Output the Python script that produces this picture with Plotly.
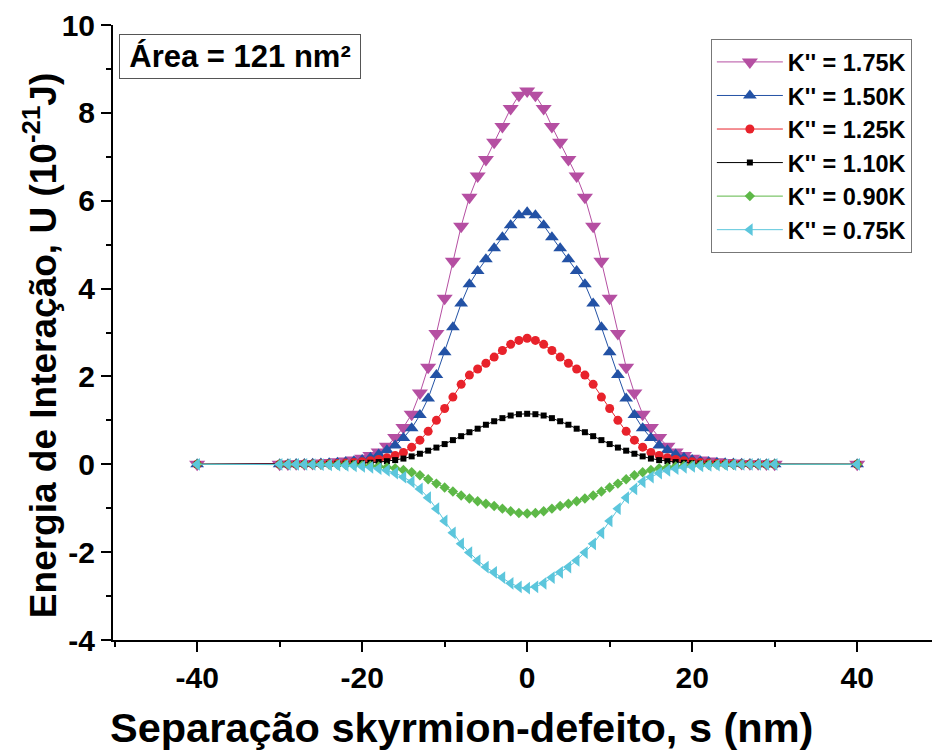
import plotly.graph_objects as go

S = [-40, -30, -29, -28, -27, -26, -25, -24, -23, -22, -21, -20, -19, -18, -17, -16,
     -15, -14, -13, -12, -11, -10, -9, -8, -7, -6, -5, -4, -3, -2, -1, 0,
     1, 2, 3, 4, 5, 6, 7, 8, 9, 10, 11, 12, 13, 14, 15, 16, 17, 18, 19, 20,
     21, 22, 23, 24, 25, 26, 27, 28, 29, 30, 40]

U_175 = [0.0, 0.003, 0.005, 0.01, 0.015, 0.02, 0.03, 0.04, 0.055, 0.075, 0.10, 0.14, 0.20, 0.28, 0.41,
         0.61, 0.84, 1.14, 1.62, 2.21, 2.98, 3.78, 4.62, 5.42, 6.08, 6.56, 6.94, 7.33, 7.69, 8.10, 8.40,
         8.50,
         8.40, 8.10, 7.69, 7.33, 6.94, 6.56, 6.08, 5.42, 4.62, 3.78, 2.98, 2.21, 1.62, 1.14, 0.84, 0.61,
         0.41, 0.28, 0.20, 0.14, 0.10, 0.075, 0.055, 0.04, 0.03, 0.02, 0.015, 0.01, 0.005, 0.003, 0.0]

U_150 = [0.0, 0.002, 0.003, 0.005, 0.008, 0.012, 0.018, 0.025, 0.035, 0.05, 0.07, 0.10, 0.15, 0.22, 0.32,
         0.43, 0.60, 0.82, 1.12, 1.50, 2.03, 2.55, 3.12, 3.66, 4.10, 4.40, 4.67, 4.92, 5.17, 5.44, 5.67,
         5.74,
         5.67, 5.44, 5.17, 4.92, 4.67, 4.40, 4.10, 3.66, 3.12, 2.55, 2.03, 1.50, 1.12, 0.82, 0.60, 0.43,
         0.32, 0.22, 0.15, 0.10, 0.07, 0.05, 0.035, 0.025, 0.018, 0.012, 0.008, 0.005, 0.003, 0.002, 0.0]

U_125 = [0.0, 0.001, 0.002, 0.003, 0.005, 0.007, 0.01, 0.015, 0.02, 0.03, 0.04, 0.06, 0.08, 0.11, 0.15,
         0.20, 0.27, 0.39, 0.55, 0.75, 1.00, 1.27, 1.53, 1.82, 2.03, 2.17, 2.30, 2.44, 2.59, 2.73, 2.82,
         2.87,
         2.82, 2.73, 2.59, 2.44, 2.30, 2.17, 2.03, 1.82, 1.53, 1.27, 1.00, 0.75, 0.55, 0.39, 0.27, 0.20,
         0.15, 0.11, 0.08, 0.06, 0.04, 0.03, 0.02, 0.015, 0.01, 0.007, 0.005, 0.003, 0.002, 0.001, 0.0]

U_110 = [0.0, 0.0, 0.001, 0.001, 0.002, 0.003, 0.004, 0.005, 0.008, 0.012, 0.018, 0.025, 0.035, 0.05, 0.07,
         0.095, 0.13, 0.18, 0.24, 0.31, 0.38, 0.46, 0.55, 0.64, 0.73, 0.81, 0.90, 0.98, 1.05, 1.11, 1.14,
         1.15,
         1.14, 1.11, 1.05, 0.98, 0.90, 0.81, 0.73, 0.64, 0.55, 0.46, 0.38, 0.31, 0.24, 0.18, 0.13, 0.095,
         0.07, 0.05, 0.035, 0.025, 0.018, 0.012, 0.008, 0.005, 0.004, 0.003, 0.002, 0.001, 0.001, 0.0, 0.0]

U_090 = [0.0, 0.0, -0.001, -0.001, -0.002, -0.003, -0.004, -0.005, -0.008, -0.012, -0.018, -0.025, -0.035,
         -0.05, -0.07, -0.09, -0.13, -0.18, -0.25, -0.34, -0.44, -0.53, -0.62, -0.71, -0.78, -0.84, -0.90,
         -0.95, -1.01, -1.07, -1.11,
         -1.12,
         -1.11, -1.07, -1.01, -0.95, -0.90, -0.84, -0.78, -0.71, -0.62, -0.53, -0.44, -0.34, -0.25, -0.18,
         -0.13, -0.09, -0.07, -0.05, -0.035, -0.025, -0.018, -0.012, -0.008, -0.005, -0.004, -0.003,
         -0.002, -0.001, -0.001, 0.0, 0.0]

U_075 = [0.0, 0.0, -0.001, -0.002, -0.003, -0.005, -0.008, -0.012, -0.018, -0.025, -0.035, -0.05, -0.07,
         -0.10, -0.14, -0.20, -0.29, -0.40, -0.56, -0.76, -1.01, -1.29, -1.56, -1.81, -2.01, -2.19, -2.34,
         -2.46, -2.58, -2.71, -2.79,
         -2.82,
         -2.79, -2.71, -2.58, -2.46, -2.34, -2.19, -2.01, -1.81, -1.56, -1.29, -1.01, -0.76, -0.56, -0.40,
         -0.29, -0.20, -0.14, -0.10, -0.07, -0.05, -0.035, -0.025, -0.018, -0.012, -0.008, -0.005,
         -0.003, -0.002, -0.001, 0.0, 0.0]

NAMES = ["K'' = 1.75K", "K'' = 1.50K", "K'' = 1.25K", "K'' = 1.10K", "K'' = 0.90K", "K'' = 0.75K"]
SERIES = [U_175, U_150, U_125, U_110, U_090, U_075]
COLORS = ["#B54FA2", "#2352A5", "#E8222B", "#000000", "#5DB847", "#5CC6DC"]
SYMBOLS = ["triangle-down", "triangle-up", "circle", "square", "diamond", "triangle-left"]
SIZES = [14, 12, 9, 6, 8, 11]

XTICKS = [-40, -20, 0, 20, 40]
XTICKTEXT = ["-40", "-20", "0", "20", "40"]
YTICKS = [-4, -2, 0, 2, 4, 6, 8, 10]
YTICKTEXT = ["-4", "-2", "0", "2", "4", "6", "8", "10"]

X_TITLE = "Separação skyrmion-defeito, s (nm)"
Y_TITLE = "Energia de Interação, U (10<sup>-21</sup>J)"
AREA_LABEL = "Área = 121 nm²"

FONT = "Liberation Sans, Arial, sans-serif"

fig = go.Figure()
for name, ys, col, sym, sz in zip(NAMES, SERIES, COLORS, SYMBOLS, SIZES):
    fig.add_trace(go.Scatter(
        x=S, y=ys, name=name, mode="lines+markers",
        line=dict(color=col, width=1),
        marker=dict(symbol=sym, size=sz, color=col, line=dict(width=0)),
    ))

XR = [-50.2, 49.07]
YR = [-4, 10]

fig.update_layout(
    width=932, height=751,
    margin=dict(l=113, r=0, t=25, b=111, autoexpand=False),
    paper_bgcolor="white", plot_bgcolor="white",
    font=dict(family=FONT, color="black"),
    showlegend=True,
    legend=dict(
        x=0.730, y=0.977, xanchor="left", yanchor="top",
        bordercolor="#777777", borderwidth=1, bgcolor="white",
        font=dict(size=23.5, family=FONT, weight="bold", color="black"),
        itemwidth=66, tracegroupgap=0,
    ),
    xaxis=dict(
        range=XR, tickvals=XTICKS, ticktext=XTICKTEXT, ticks="outside", ticklen=10, tickwidth=2,
        tickcolor="black", showline=True, linewidth=2, linecolor="black",
        showgrid=False, zeroline=False,
        minor=dict(dtick=10, tick0=0, ticks="outside", ticklen=5, tickwidth=2, tickcolor="black", showgrid=False),
        tickfont=dict(size=30, family=FONT, weight="bold"),
    ),
    yaxis=dict(
        range=YR, tickvals=YTICKS, ticktext=YTICKTEXT, ticks="outside", ticklen=10, tickwidth=2,
        tickcolor="black", showline=True, linewidth=2, linecolor="black",
        showgrid=False, zeroline=False,
        minor=dict(dtick=1, tick0=0, ticks="outside", ticklen=5, tickwidth=2, tickcolor="black", showgrid=False),
        tickfont=dict(size=30, family=FONT, weight="bold"),
    ),
    xaxis2=dict(
        overlaying="x", side="top", range=XR, tickvals=XTICKS, ticks="inside",
        ticklen=10, tickwidth=2, tickcolor="black", showticklabels=False,
        showline=True, linewidth=2, linecolor="black", showgrid=False, zeroline=False,
        minor=dict(dtick=10, tick0=0, ticks="inside", ticklen=5, tickwidth=2, tickcolor="black", showgrid=False),
    ),
    yaxis2=dict(
        overlaying="y", side="right", range=YR, tickvals=YTICKS, ticks="inside",
        ticklen=10, tickwidth=2, tickcolor="black", showticklabels=False,
        showline=False, showgrid=False, zeroline=False,
        minor=dict(dtick=1, tick0=0, ticks="inside", ticklen=5, tickwidth=2, tickcolor="black", showgrid=False),
    ),
    annotations=[
        dict(
            text=AREA_LABEL, xref="paper", yref="paper", x=0.155, y=0.948,
            xanchor="center", yanchor="middle", showarrow=False,
            font=dict(size=31, family=FONT, weight="bold", color="black"),
            bordercolor="#555555", borderwidth=1, borderpad=2, bgcolor="white",
            width=236, height=39,
        ),
        dict(
            text=X_TITLE, xref="paper", yref="paper", x=0.426, y=-0.143,
            xanchor="center", yanchor="middle", showarrow=False,
            font=dict(size=41.5, family=FONT, weight="bold", color="black"),
        ),
        dict(
            text=Y_TITLE, xref="paper", yref="paper", x=-0.089, y=0.478,
            xanchor="center", yanchor="middle", showarrow=False, textangle=-90,
            font=dict(size=37, family=FONT, weight="bold", color="black"),
        ),
    ],
)

fig.write_html("out.html")
